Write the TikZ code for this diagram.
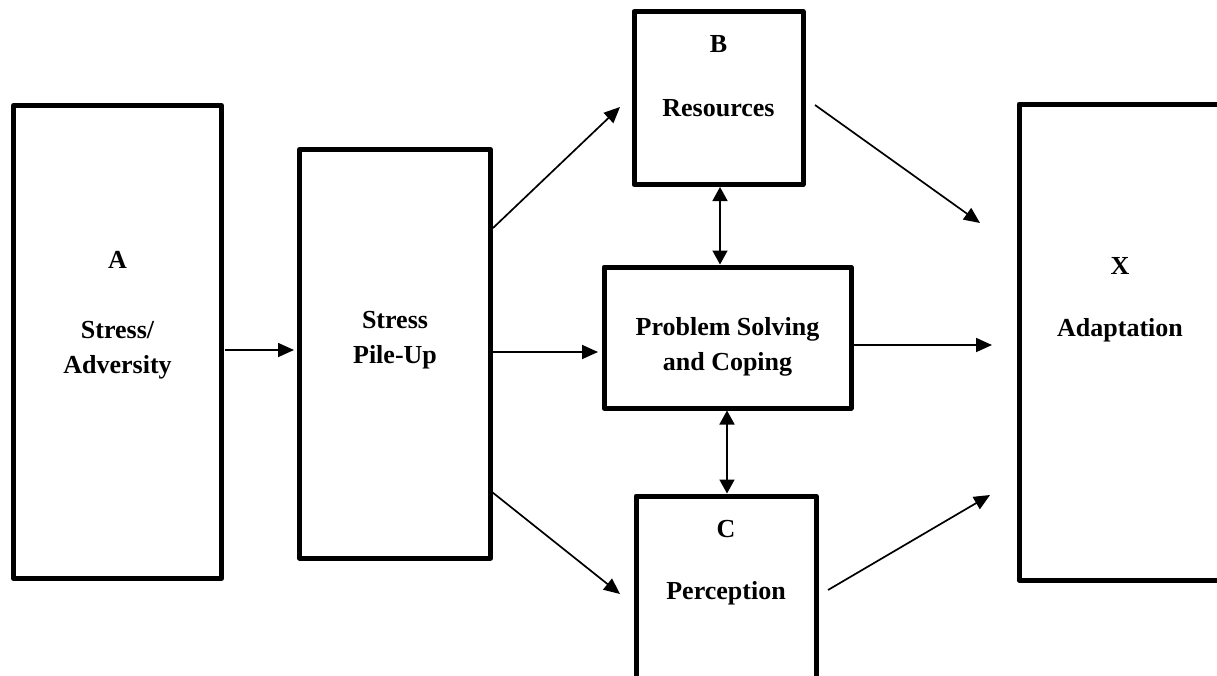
\documentclass[tikz,border=0pt]{standalone}
\usepackage{fontspec}
\setmainfont{Liberation Serif}
\usetikzlibrary{arrows.meta,calc}
\tikzset{
  box/.style={draw=black, line width=5pt, rectangle, line join=round, inner sep=0pt, fill=none},
  lbl/.style={anchor=base, inner sep=0pt, font=\bfseries\fontsize{26}{35}\selectfont},
  arr/.style={line width=1.7pt, -{Triangle[length=16pt,width=14pt]}},
  darr/.style={line width=1.7pt, {Triangle[length=14pt,width=15pt]}-{Triangle[length=14pt,width=15pt]}}
}
\begin{document}
\begin{tikzpicture}[x=1pt,y=-1pt]
\useasboundingbox (0,0) rectangle (1217,675);
\clip (0,0) rectangle (1217,675);
\fill[white] (0,0) rectangle (1217,675);
% boxes
\node[box, minimum width=208pt, minimum height=473pt] (A) at (117.5,342) {};
\node[box, minimum width=191pt, minimum height=408.5pt] (SPU) at (395,353.75) {};
\node[box, minimum width=169pt, minimum height=173pt] (B) at (718.5,98) {};
\node[box, minimum width=247pt, minimum height=141pt] (PS) at (727.5,337.5) {};
\node[box, minimum width=180pt, minimum height=194pt] (C) at (726,593) {};
\node[box, minimum width=203pt, minimum height=476pt] (X) at (1120.5,342) {};
% labels
\node[lbl] (tA) at (117.5,268) {A};
\node[lbl] (tA1) at (117.5,338) {Stress/};
\node[lbl] (tA2) at (117.5,373) {Adversity};
\node[lbl] (tS1) at (395,328) {Stress};
\node[lbl] (tS2) at (395,363) {Pile-Up};
\node[lbl] (tB) at (718.5,52) {B};
\node[lbl] (tB1) at (718.5,116) {Resources};
\node[lbl] (tP1) at (727.5,335) {Problem Solving};
\node[lbl] (tP2) at (727.5,370) {and Coping};
\node[lbl] (tC) at (726,537) {C};
\node[lbl] (tC1) at (726,599) {Perception};
\node[lbl] (tX) at (1120,274) {X};
\node[lbl] (tX1) at (1120,336) {Adaptation};
% connectors
\draw[arr] ($(A.east |- 0,350)+(1,0)$) -- ($(SPU.west |- 0,350)+(-3,0)$);
\draw[arr] ($(SPU.east |- 0,352)+(0,0)$) -- ($(PS.west |- 0,352)+(-3.5,0)$);
\draw[arr] ($(PS.east |- 0,345)+(0.5,0)$) -- ($(X.west |- 0,345)+(-24.5,0)$);
\draw[arr] ($(SPU.east |- 0,228)$) -- ($(B.west |- 0,107)+(-11.5,0)$);
\draw[arr] ($(B.east |- 0,105)+(9.5,0)$) -- ($(X.west |- 0,223)+(-36.5,0)$);
\draw[arr] ($(SPU.east |- 0,492)+(-1,0)$) -- ($(C.west |- 0,594)+(-13.5,0)$);
\draw[arr] ($(C.east |- 0,590)+(9.5,0)$) -- ($(X.west |- 0,495)+(-26.5,0)$);
\draw[darr] (B.south -| 720,0) -- (PS.north -| 720,0);
\draw[darr] (PS.south -| 727,0) -- (C.north -| 727,0);
\end{tikzpicture}
\end{document}
